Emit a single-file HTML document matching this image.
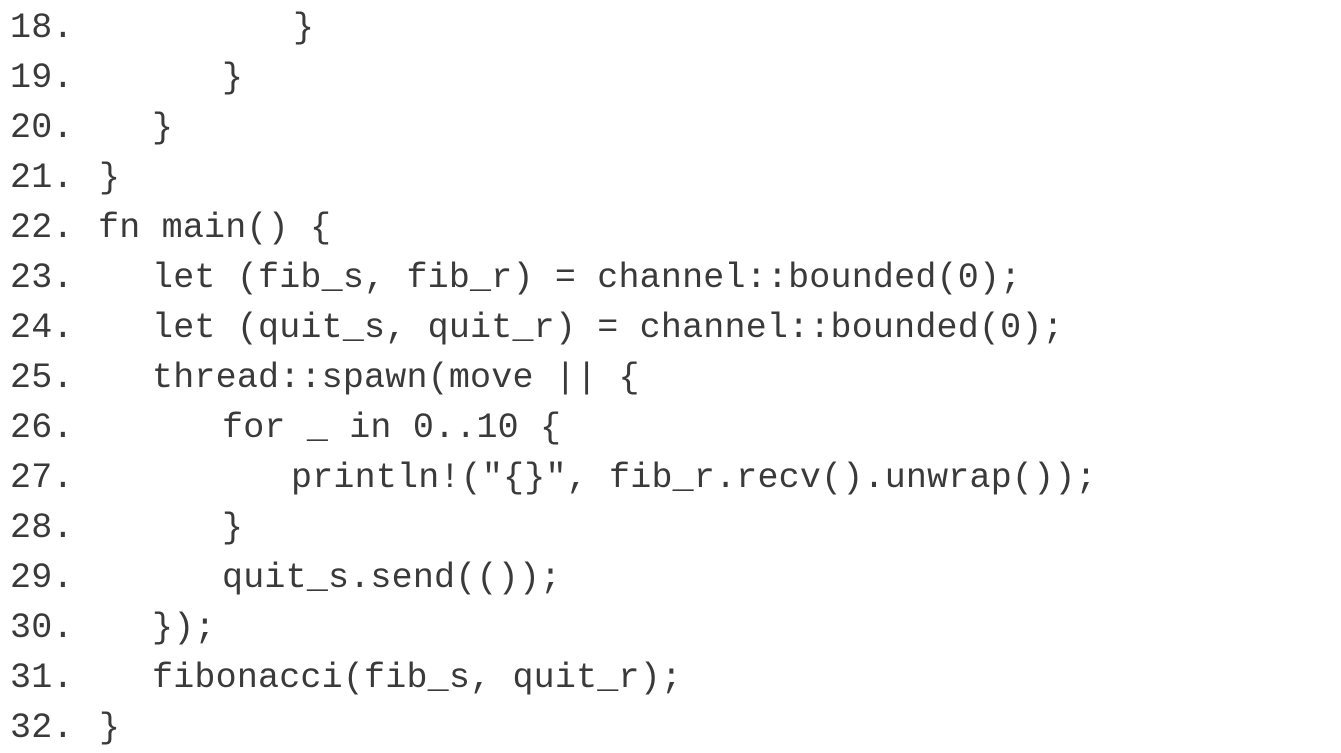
<!DOCTYPE html>
<html><head><meta charset="utf-8"><style>
html,body{margin:0;padding:0;background:#fff;width:1341px;height:751px;overflow:hidden}
.l{position:absolute;height:50px;line-height:50px;font-family:"Liberation Mono","Courier New",monospace;font-size:35px;letter-spacing:0.2px;color:#3a3a3a;white-space:pre}
</style></head><body>
<div class="l" style="top:3px;left:10px">18.</div><div class="l" style="top:3px;left:293px">}</div>
<div class="l" style="top:53px;left:10px">19.</div><div class="l" style="top:53px;left:222px">}</div>
<div class="l" style="top:103px;left:10px">20.</div><div class="l" style="top:103px;left:152px">}</div>
<div class="l" style="top:153px;left:10px">21.</div><div class="l" style="top:153px;left:99px">}</div>
<div class="l" style="top:203px;left:10px">22.</div><div class="l" style="top:203px;left:98px">fn main() {</div>
<div class="l" style="top:253px;left:10px">23.</div><div class="l" style="top:253px;left:152px">let (fib_s, fib_r) = channel::bounded(0);</div>
<div class="l" style="top:303px;left:10px">24.</div><div class="l" style="top:303px;left:152px">let (quit_s, quit_r) = channel::bounded(0);</div>
<div class="l" style="top:353px;left:10px">25.</div><div class="l" style="top:353px;left:152px">thread::spawn(move || {</div>
<div class="l" style="top:403px;left:10px">26.</div><div class="l" style="top:403px;left:222px">for _ in 0..10 {</div>
<div class="l" style="top:453px;left:10px">27.</div><div class="l" style="top:453px;left:291px">println!("{}", fib_r.recv().unwrap());</div>
<div class="l" style="top:503px;left:10px">28.</div><div class="l" style="top:503px;left:222px">}</div>
<div class="l" style="top:553px;left:10px">29.</div><div class="l" style="top:553px;left:222px">quit_s.send(());</div>
<div class="l" style="top:603px;left:10px">30.</div><div class="l" style="top:603px;left:152px">});</div>
<div class="l" style="top:653px;left:10px">31.</div><div class="l" style="top:653px;left:152px">fibonacci(fib_s, quit_r);</div>
<div class="l" style="top:703px;left:10px">32.</div><div class="l" style="top:703px;left:99px">}</div>
</body></html>
